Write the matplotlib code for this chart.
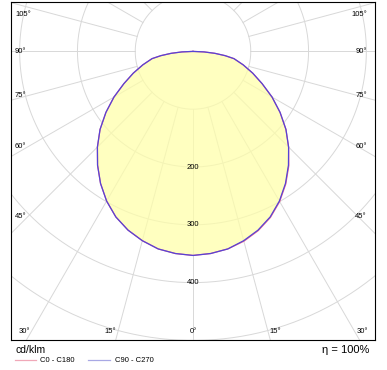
import numpy as np
import matplotlib.pyplot as plt
from matplotlib.lines import Line2D

plt.rcParams['font.family'] = ['Liberation Sans', 'DejaVu Sans']

# luminous intensity (cd/klm), gamma 0 = straight down, 90 = horizontal
gamma = [0, 5, 10, 15, 20, 25, 30, 35, 40, 45, 50, 55, 60, 65, 70, 75, 80, 82.5, 85, 87.5, 90]
c0 = [353, 351, 347, 340, 330, 317, 300, 280, 258, 234, 210, 184, 158, 132, 110, 90, 72, 56, 38, 19, 0]
c180 = [353, 351, 347, 339, 329, 316, 299, 279, 257, 234, 210, 184, 158, 132, 110, 90, 72, 56, 38, 19, 0]
c90 = [353, 351, 347, 339, 329, 316, 299, 279, 257, 234, 210, 184, 158, 132, 110, 90, 72, 56, 38, 19, 0]
c270 = [353, 351, 347, 339, 329, 316, 299, 279, 257, 234, 210, 184, 158, 132, 110, 90, 72, 56, 38, 19, 0]

grid_r = [100, 200, 300, 400, 500, 600]
r_labels = [200, 300, 400]
side_angles = [45, 60, 75, 90, 105]
bottom_angles = [0, 15, 30]

pink = '#f06a8c'
blue = '#5544d6'
gridc = '#d8d8d8'


def curve(left, right):
    g = np.radians(gamma)
    l = np.array(left, float)
    r = np.array(right, float)
    xl = -l * np.sin(g)
    yl = -l * np.cos(g)
    xr = r * np.sin(g)
    yr = -r * np.cos(g)
    return np.concatenate([xl[::-1], xr[1:]]), np.concatenate([yl[::-1], yr[1:]])


fig = plt.figure(figsize=(3.87, 3.70), dpi=100)
ax = fig.add_axes([11 / 387, 30 / 370, 364 / 387, 338 / 370])
ax.set_xlim(-315, 315)
ax.set_ylim(-499.3, 85.5)
ax.set_xticks([])
ax.set_yticks([])
for s in ax.spines.values():
    s.set_color('black')
    s.set_linewidth(0.8)

# grid
t = np.linspace(0, 2 * np.pi, 400)
for r in grid_r:
    ax.plot(r * np.cos(t), r * np.sin(t), color=gridc, lw=0.7, zorder=1)
for a in range(0, 360, 15):
    ar = np.radians(a)
    ax.plot([100 * np.sin(ar), 900 * np.sin(ar)], [-100 * np.cos(ar), -900 * np.cos(ar)],
            color=gridc, lw=0.7, zorder=1)

x90, y90 = curve(c270, c90)
x0, y0 = curve(c180, c0)
ax.fill(np.append(x90, 0), np.append(y90, 0), color='#ffffa8', alpha=0.72, lw=0, zorder=2)
ax.plot(x0, y0, color=pink, lw=0.9, zorder=3)
ax.plot(x90, y90, color=blue, lw=0.9, zorder=4)

# labels
for r in r_labels:
    ax.text(0, -r, str(r), ha='center', va='center', fontsize=5.5, zorder=5)

for a in side_angles:
    y = -286 / np.tan(np.radians(a)) if a != 90 else 0
    y = min(y, 64)
    ax.text(-308, y, f'{a}°', ha='left', va='center', fontsize=5.5)
    ax.text(301, y, f'{a}°', ha='right', va='center', fontsize=5.5)

for a in bottom_angles:
    xr = 484 * np.tan(np.radians(a))
    if a == 0:
        ax.text(0, -484, '0°', ha='center', va='center', fontsize=5.5)
    else:
        ax.text(-xr - 3, -484, f'{a}°', ha='right', va='center', fontsize=5.5)
        ax.text(xr + 3, -484, f'{a}°', ha='left', va='center', fontsize=5.5)

# footer
fig.text(15 / 387, 1 - 350 / 370, 'cd/klm', ha='left', va='center', fontsize=7.5)
fig.text(369 / 387, 1 - 350 / 370, 'η = 100%', ha='right', va='center', fontsize=8)
fig.add_artist(Line2D([15 / 387, 36 / 387], [1 - 360 / 370] * 2, color='#f0a8b8', lw=0.9))
fig.text(40 / 387, 1 - 360 / 370, 'C0 - C180', ha='left', va='center', fontsize=5.5)
fig.add_artist(Line2D([88 / 387, 110 / 387], [1 - 360 / 370] * 2, color='#a8a8e4', lw=0.9))
fig.text(115 / 387, 1 - 360 / 370, 'C90 - C270', ha='left', va='center', fontsize=5.5)

fig.savefig('out.png', dpi=100)
